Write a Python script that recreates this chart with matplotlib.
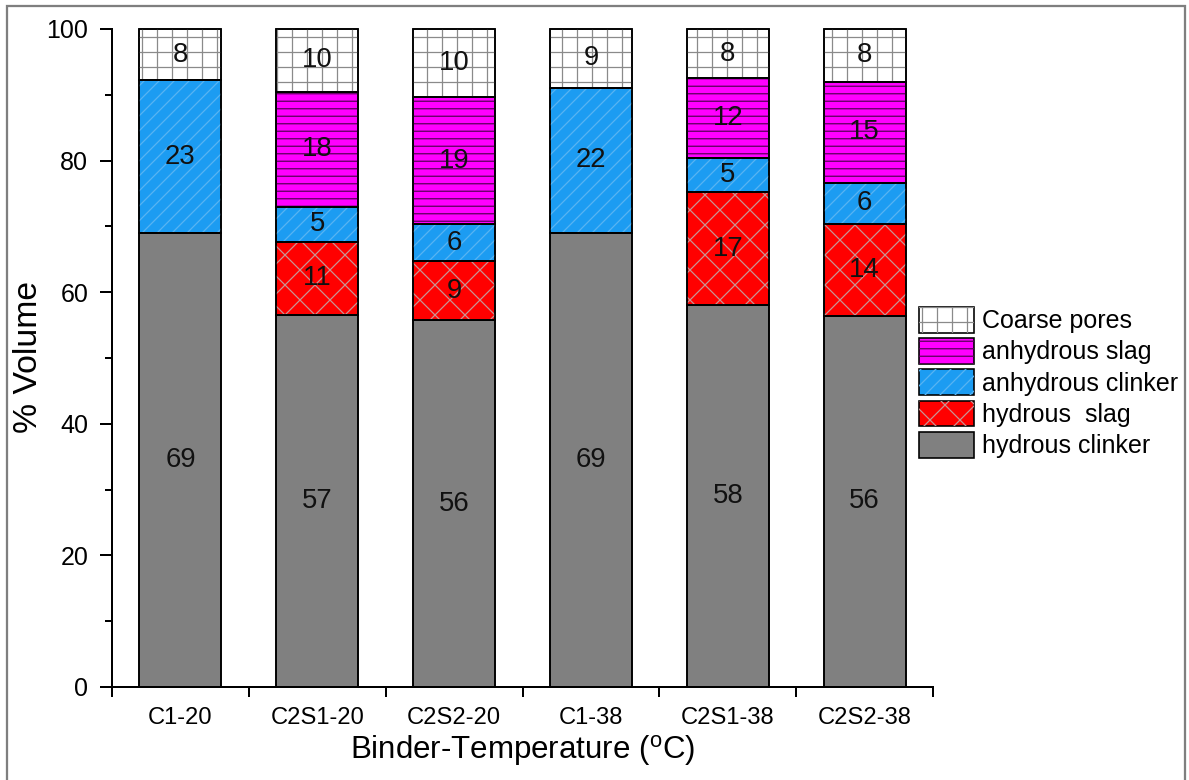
import matplotlib
matplotlib.use("Agg")
import matplotlib.pyplot as plt
import matplotlib.patches as mpatches
import numpy as np

plt.rcParams['font.family'] = ['Liberation Sans', 'DejaVu Sans']
plt.rcParams['mathtext.fontset'] = 'custom'
plt.rcParams['mathtext.rm'] = 'Liberation Sans'
plt.rcParams['hatch.linewidth'] = 1.0

# data (% volume), stacked bottom -> top
binders = ['C1-20', 'C2S1-20', 'C2S2-20', 'C1-38', 'C2S1-38', 'C2S2-38']
hydrous_clinker = [69.0, 56.5, 55.7, 69.0, 58.0, 56.4]
hydrous_slag = [0.0, 11.2, 9.0, 0.0, 17.2, 14.0]
anhydrous_clinker = [23.2, 5.3, 5.6, 22.1, 5.2, 6.2]
anhydrous_slag = [0.0, 17.5, 19.4, 0.0, 12.1, 15.4]
coarse_pores = [7.8, 9.5, 10.3, 8.9, 7.5, 8.0]

# name, values, face, hatch, hatch colour
layers = [
    ('hydrous clinker', hydrous_clinker, '#808080', '', '#808080'),
    ('hydrous  slag', hydrous_slag, '#ff0000', 'x', '#c99393'),
    ('anhydrous clinker', anhydrous_clinker, '#1c9cf2', '//', '#58b4f2'),
    ('anhydrous slag', anhydrous_slag, '#ff00ff', '--', '#5a005a'),
    ('Coarse pores', coarse_pores, '#ffffff', '+', '#8a8a8a'),
]

DPI = 90
fig = plt.figure(figsize=(1189 / DPI, 780 / DPI), dpi=DPI)
ax = fig.add_axes([112 / 1189, 1 - 687 / 780, (933 - 112) / 1189, (687 - 29) / 780])

x = np.arange(len(binders))
bottom = np.zeros(len(binders))
handles = {}
for name, vals, face, hatch, hcol in layers:
    vals = np.array(vals)
    base = ax.bar(x, vals, 0.6, bottom=bottom, color=face, edgecolor='black',
                  linewidth=1.3, zorder=2, clip_on=False)
    hat = ax.bar(x, vals, 0.6, bottom=bottom, color='none', edgecolor=hcol,
                 hatch=hatch, linewidth=0, zorder=2.5, clip_on=False)
    # redraw outline on top of hatch
    ax.bar(x, vals, 0.6, bottom=bottom, color='none', edgecolor='black',
           linewidth=1.3, zorder=3, clip_on=False)
    for xi, v, b in zip(x, vals, bottom):
        if v > 0:
            ax.text(xi, b + v / 2, '%d' % int(v + 0.5), ha='center', va='center',
                    fontsize=22, color='#111111', zorder=4)
    handles[name] = (base[0], hat[0])
    bottom = bottom + vals

ax.set_xlim(-0.5, 5.5)
ax.set_ylim(0, 100)
ax.set_xticks(np.arange(-0.5, 6, 1.0))
ax.set_xticklabels([])
ax.set_xticks(x, minor=True)
ax.set_xticklabels(binders, minor=True)
ax.tick_params(axis='x', which='major', direction='out', length=8, width=1.6)
ax.tick_params(axis='x', which='minor', length=0, pad=16, labelsize=19)
ax.set_yticks(np.arange(0, 101, 20))
ax.set_yticks(np.arange(10, 100, 20), minor=True)
ax.tick_params(axis='y', which='major', direction='out', length=10, width=1.6,
               pad=9, labelsize=20)
ax.tick_params(axis='y', which='minor', direction='out', length=6, width=1.6)
for s in ['top', 'right']:
    ax.spines[s].set_visible(False)
for s in ['left', 'bottom']:
    ax.spines[s].set_linewidth(1.6)

fig.text(29 / 1189, 1 - 357 / 780, '% Volume', rotation=90, ha='center',
         va='center', fontsize=27)
fig.text(523 / 1189, 1 - 751 / 780, 'Binder-Temperature ($^{\\rm o}$C)',
         ha='center', va='center', fontsize=25)

order = ['Coarse pores', 'anhydrous slag', 'anhydrous clinker', 'hydrous  slag',
         'hydrous clinker']
leg = fig.legend([handles[n] for n in order], order, loc='upper left',
                 bbox_to_anchor=(919 / 1189, 1 - 307 / 780), fontsize=20,
                 frameon=False, handlelength=2.2, handleheight=1.2,
                 labelspacing=0.2, handletextpad=0.32, borderpad=0,
                 borderaxespad=0)

# outer frame of the figure
fig.patches.append(mpatches.Rectangle((7 / 1189, -0.01), (1185 - 7) / 1189, 1.01 - 6 / 780,
                                      transform=fig.transFigure, fill=False,
                                      edgecolor='#7f7f7f', linewidth=1.8))

fig.savefig('out.png', dpi=DPI)
